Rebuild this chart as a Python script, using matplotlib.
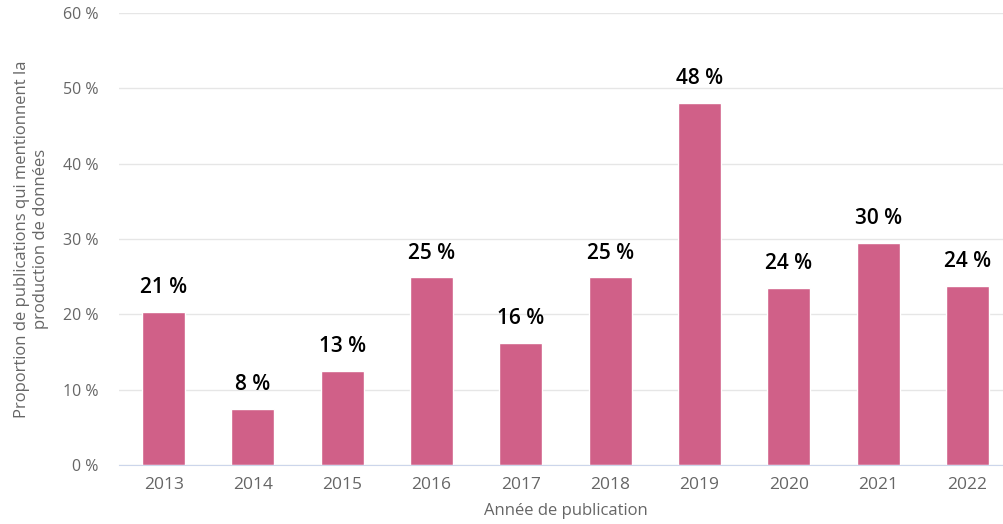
import matplotlib
matplotlib.use('Agg')
import matplotlib.pyplot as plt
import numpy as np

years = ['2013', '2014', '2015', '2016', '2017', '2018', '2019', '2020', '2021', '2022']
shares = [20.3, 7.4, 12.5, 24.9, 16.2, 24.9, 48.1, 23.5, 29.5, 23.8]
labels = ['21 %', '8 %', '13 %', '25 %', '16 %', '25 %', '48 %', '24 %', '30 %', '24 %']
yticks = [0, 10, 20, 30, 40, 50, 60]

plt.rcParams['font.family'] = ['Open Sans', 'DejaVu Sans']

fig = plt.figure(figsize=(10.04, 5.24), dpi=100)
# plot area runs slightly past the right edge, like the original
ax = fig.add_axes([0.1185, 0.1126, 0.8895, 0.8626])

x = np.arange(len(years))
ax.bar(x, shares, width=0.48, color='#d06088', edgecolor='white', linewidth=1, zorder=2)

for xi, v, lab in zip(x, shares, labels):
    ax.annotate(lab, (xi, v), xytext=(0, 10), textcoords='offset points',
                ha='center', va='bottom', fontsize=15, fontweight='semibold', color='black')

ax.set_xlim(-0.5, len(years) - 0.5)
ax.set_ylim(0, 60)
ax.set_yticks(yticks)
ax.set_yticklabels([f'{t} %' for t in yticks])
ax.set_xticks(x)
ax.set_xticklabels(years)
ax.tick_params(axis='both', length=0, colors='#666666')
ax.tick_params(axis='x', pad=9, labelsize=12.5)
ax.tick_params(axis='y', pad=15, labelsize=11.5)

ax.grid(axis='y', color='#e6e6e6', linewidth=1, zorder=0)
for s in ['top', 'right', 'left']:
    ax.spines[s].set_visible(False)
ax.spines['bottom'].set_color('#ccd6eb')

ax.set_xlabel('Année de publication', fontsize=12, color='#666666', labelpad=7)
ax.set_ylabel('Proportion de publications qui mentionnent la\nproduction de données',
              fontsize=12, color='#666666', labelpad=10)

fig.savefig('out.png', dpi=100)
